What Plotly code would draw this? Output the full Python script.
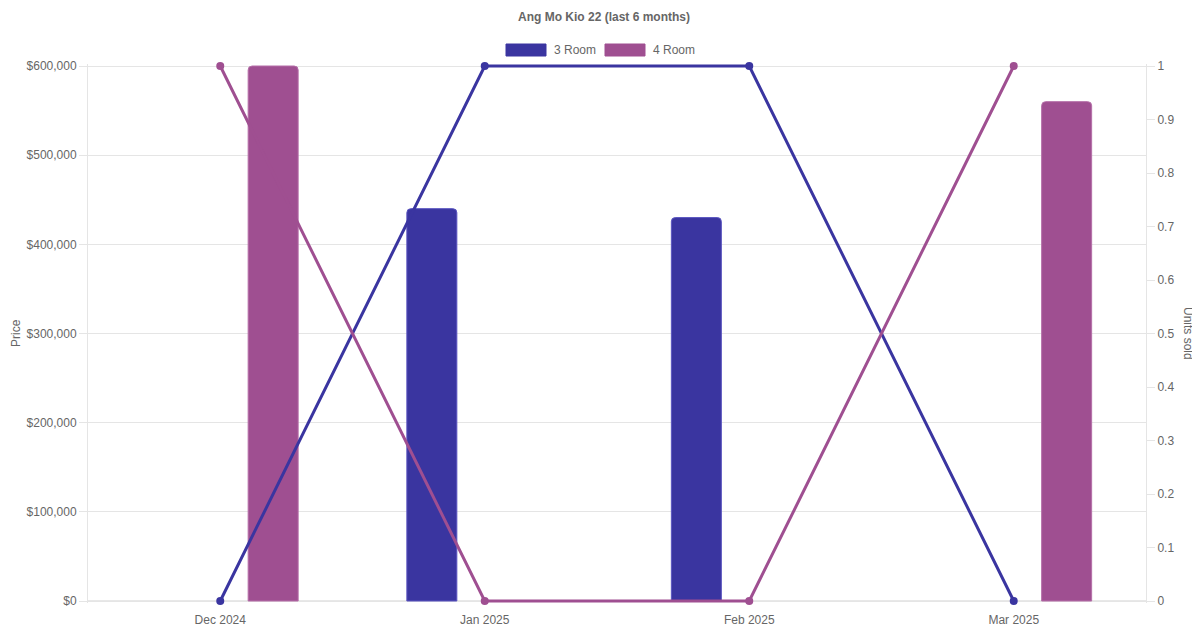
import plotly.graph_objects as go

# data
months = ["Dec 2024", "Jan 2025", "Feb 2025", "Mar 2025"]
price_3room = [None, 440000, 430000, None]
price_4room = [600000, None, None, 560000]
units_3room = [0, 1, 1, 0]
units_4room = [1, 0, 0, 1]
price_ticks = [0, 100000, 200000, 300000, 400000, 500000, 600000]
price_labels = [f"${v:,}" for v in price_ticks]

COL_3 = "#3a35a0"
COL_4 = "#9f4f91"
GRID = "#e5e5e5"
TEXT = "#666666"
FONT = "Liberation Sans, Arial, sans-serif"

# the browser page adds an 8px body margin, so the figure is drawn 8px smaller
OFF = 8
W, H = 1200 - OFF, 630 - OFF
# plot area in screenshot pixels; 2px of padding top/bottom so lines at 0 and 1 are not clipped
PAD = 2
L, R, T, B = 88, 1146, 66 - PAD, 601 + PAD
EXT = PAD / (601 - 66)


def px_x(px):
    return (px - L) / (R - L)


def px_y(py):
    return (B - py) / (B - T)


fig = go.Figure()

# bars (price, left axis) - 50px wide, centred +-0.2 category from tick
bw = 50 / ((R - L) / 4)
fig.add_trace(go.Bar(
    x=months, y=price_3room, name="3 Room",
    width=bw, offset=-0.2 - bw / 2,
    marker=dict(color=COL_3, cornerradius=4, line=dict(color="#5a55c0", width=1)),
    showlegend=False, yaxis="y",
))
fig.add_trace(go.Bar(
    x=months, y=price_4room, name="4 Room",
    width=bw, offset=0.2 - bw / 2,
    marker=dict(color=COL_4, cornerradius=4, line=dict(color="#b56fa8", width=1)),
    showlegend=False, yaxis="y",
))

# lines (units sold, right axis)
fig.add_trace(go.Scatter(
    x=months, y=units_3room, name="3 Room", mode="lines+markers",
    line=dict(color=COL_3, width=3), marker=dict(color=COL_3, size=8),
    cliponaxis=False, showlegend=False, yaxis="y2",
))
fig.add_trace(go.Scatter(
    x=months, y=units_4room, name="4 Room", mode="lines+markers",
    line=dict(color=COL_4, width=3), marker=dict(color=COL_4, size=8),
    cliponaxis=False, showlegend=False, yaxis="y2",
))

# manual chart.js-like legend
shapes = []
annotations = []
for x0, label, col in [(506, "3 Room", COL_3), (605, "4 Room", COL_4)]:
    shapes.append(dict(
        type="rect", xref="paper", yref="paper",
        x0=px_x(x0), x1=px_x(x0 + 40), y0=px_y(56), y1=px_y(44),
        fillcolor=col, line=dict(color=col, width=1),
    ))
    annotations.append(dict(
        text=label, xref="paper", yref="paper",
        x=px_x(x0 + 46), y=px_y(50), xanchor="left", yanchor="middle",
        showarrow=False, font=dict(size=12, color=TEXT, family=FONT),
    ))

# axis titles (Price nudged right a little so it is not cut by the page edge)
annotations.append(dict(
    text="Price", xref="paper", yref="paper", x=px_x(16), y=px_y(333),
    textangle=-90, showarrow=False, xanchor="center", yanchor="middle",
    font=dict(size=12, color=TEXT, family=FONT),
))
annotations.append(dict(
    text="Units sold", xref="paper", yref="paper", x=px_x(1188), y=px_y(333),
    textangle=90, showarrow=False, xanchor="center", yanchor="middle",
    font=dict(size=12, color=TEXT, family=FONT),
))

# bottom axis line (drawn at value 0 since the plot area is padded)
shapes.append(dict(
    type="line", xref="paper", yref="paper",
    x0=0, x1=1, y0=px_y(601), y1=px_y(601),
    line=dict(color="#d0d0d0", width=1), layer="below",
))

fig.update_layout(
    width=W, height=H,
    margin=dict(l=L - OFF, r=W - (R - OFF), t=T - OFF, b=H - (B - OFF), pad=0),
    paper_bgcolor="white", plot_bgcolor="white",
    barmode="overlay",
    font=dict(family=FONT, size=12, color=TEXT),
    title=dict(
        text="<b>Ang Mo Kio 22 (last 6 months)</b>",
        x=0.5, xanchor="center", y=1 - (17 - OFF) / H, yanchor="middle",
        font=dict(size=12, color=TEXT, family=FONT),
    ),
    xaxis=dict(
        type="category", range=[-0.5, 3.5], automargin=False,
        showgrid=False, ticks="", showline=False, zeroline=False,
        ticklabelstandoff=8,
        tickfont=dict(size=12, color=TEXT),
    ),
    yaxis=dict(
        range=[-EXT * 600000, 600000 * (1 + EXT)], automargin=False,
        tickvals=price_ticks, ticktext=price_labels,
        showgrid=True, gridcolor=GRID, gridwidth=1,
        ticks="outside", ticklen=8, tickcolor=GRID,
        showline=True, linecolor=GRID, zeroline=False,
        tickfont=dict(size=12, color=TEXT),
    ),
    yaxis2=dict(
        range=[-EXT, 1 + EXT], dtick=0.1, overlaying="y", side="right",
        automargin=False,
        showgrid=False, ticks="outside", ticklen=8, tickcolor=GRID,
        showline=True, linecolor=GRID, zeroline=False,
        tickfont=dict(size=12, color=TEXT),
    ),
    shapes=shapes,
    annotations=annotations,
)

fig.write_html("out.html")
